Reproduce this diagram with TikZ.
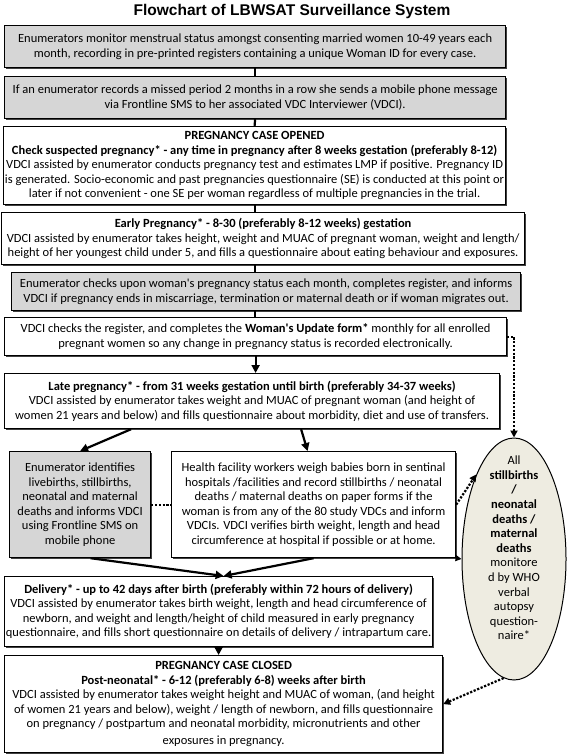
\documentclass[tikz,border=0pt]{standalone}
\usepackage{fontspec}
\setmainfont{Carlito}
\newfontfamily\titlefont{Liberation Sans}
\usetikzlibrary{arrows.meta,shapes.geometric,shadows}
\definecolor{boxgrey}{HTML}{D6D6D6}
\definecolor{ellfill}{HTML}{EEECE1}
\begin{document}
\begin{tikzpicture}[x=1pt,y=-1pt,
  box/.style={draw, fill=white, line width=1.2pt, inner sep=0pt, align=center, anchor=north west,
    font=\fontsize{12.5}{14.5}\selectfont,
    drop shadow={shadow xshift=1.1pt, shadow yshift=-1.1pt, fill=black!75, opacity=1}},
  greybox/.style={box, fill=boxgrey},
  link/.style={line width=2.2pt},
  arr/.style={line width=2.2pt, -{Triangle[length=8pt,width=8pt]}},
  thinarr/.style={line width=1.3pt, -{Triangle[length=6pt,width=6pt]}},
  dotarr/.style={line width=2.2pt, dash pattern=on 2.2pt off 1.6pt, -{Triangle[length=7pt,width=7pt]}},
  dotlink/.style={line width=2.2pt, dash pattern=on 2.2pt off 1.6pt}
]
\useasboundingbox (0,0) rectangle (567,754);
\node[font=\titlefont\fontsize{15.5}{18}\selectfont\bfseries] (title) at (292,11) {Flowchart of LBWSAT Surveillance System};

\node[greybox, minimum width=501pt, minimum height=42pt] (b1) at (4,25)
 {Enumerators monitor menstrual status amongst consenting married women 10-49 years each\\
  month, recording in pre-printed registers containing a unique Woman ID for every case.};
\node[greybox, minimum width=501pt, minimum height=42pt] (b2) at (4,76)
 {If an enumerator records a missed period 2 months in a row she sends a mobile phone message\\
  via Frontline SMS to her associated VDC Interviewer (VDCI).};
\node[box, minimum width=502pt, minimum height=78pt] (b3) at (3,126)
 {\textbf{PREGNANCY CASE OPENED}\\
  \textbf{Check suspected pregnancy* - any time in pregnancy after 8 weeks gestation (preferably 8-12)}\\
  VDCI assisted by enumerator conducts pregnancy test and estimates LMP if positive. Pregnancy ID\\
  is generated. Socio-economic and past pregnancies questionnaire (SE) is conducted at this point or\\
  later if not convenient - one SE per woman regardless of multiple pregnancies in the trial.};
\node[box, minimum width=523pt, minimum height=52pt] (b4) at (1,212)
 {\textbf{Early Pregnancy* - 8-30 (preferably 8-12 weeks) gestation}\\
  VDCI assisted by enumerator takes height, weight and MUAC of pregnant woman, weight and length/\\
  height of her youngest child under 5, and fills a questionnaire about eating behaviour and exposures.};
\node[greybox, minimum width=509pt, minimum height=38pt] (b5) at (11,272)
 {Enumerator checks upon woman\textquotesingle s pregnancy status each month, completes register, and informs\\
  VDCI if pregnancy ends in miscarriage, termination or maternal death or if woman migrates out.};
\node[box, minimum width=502pt, minimum height=38pt] (b6) at (4,317)
 {VDCI checks the register, and completes the \textbf{Woman\textquotesingle s Update form*} monthly for all enrolled\\
  pregnant women so any change in pregnancy status is recorded electronically.};
\node[box, minimum width=495pt, minimum height=55pt] (b7) at (4,373)
 {\textbf{Late pregnancy* - from 31 weeks gestation until birth (preferably 34-37 weeks)}\\
  VDCI assisted by enumerator takes weight and MUAC of pregnant woman (and height of\\
  women 21 years and below) and fills questionnaire about morbidity, diet and use of transfers.};
\node[greybox, minimum width=141pt, minimum height=106pt] (enum) at (9,451)
 {Enumerator identifies\\ livebirths, stillbirths,\\ neonatal and maternal\\ deaths and informs VDCI\\ using Frontline SMS on\\ mobile phone};
\node[box, minimum width=284pt, minimum height=106pt] (hf) at (171,451)
 {Health facility workers weigh babies born in sentinal\\
  hospitals /facilities and record stillbirths / neonatal\\
  deaths / maternal deaths on paper forms if the\\
  woman is from any of the 80 study VDCs and inform\\
  VDCIs. VDCI verifies birth weight, length and head\\
  circumference at hospital if possible or at home.};
\node[box, minimum width=428pt, minimum height=70pt] (dl) at (4,576)
 {\textbf{Delivery* - up to 42 days after birth (preferably within 72 hours of delivery)}\\
  VDCI assisted by enumerator takes birth weight, length and head circumference of\\
  newborn, and weight and length/height of child measured in early pregnancy\\
  questionnaire, and fills short questionnaire on details of delivery / intrapartum care.};
\node[box, minimum width=438pt, minimum height=97pt] (cl) at (4,655)
 {\textbf{PREGNANCY CASE CLOSED}\\
  \textbf{Post-neonatal* - 6-12 (preferably 6-8) weeks after birth}\\
  VDCI assisted by enumerator takes weight height and MUAC of woman, (and height\\
  of women 21 years and below), weight / length of newborn, and fills questionnaire\\
  on pregnancy / postpartum and neonatal morbidity, micronutrients and other\\[2pt]
  exposures in pregnancy.};
\node[draw, line width=1pt, fill=ellfill, ellipse, inner sep=0pt, minimum width=104pt, minimum height=242pt] (ell) at (514,559) {};
\node[align=center, font=\fontsize{12.5}{14.6}\selectfont] (elltext) at (514,548)
 {All\\\textbf{stillbirths}\\\textbf{/}\\\textbf{neonatal}\\\textbf{deaths /}\\\textbf{maternal}\\\textbf{deaths}\\monitore\\d by WHO\\verbal\\autopsy\\question-\\naire*};

\draw[link] (b1.south) -- (b2.north);
\draw[link] (b2.south) -- (b3.north);
\draw[link] (b3.south) -- (b3.south |- b4.north);
\draw[link] (b3.south |- b4.south) -- (b3.south |- b5.north);
\draw[link] (b3.south |- b5.south) -- (b3.south |- b6.north);
\draw[arr] (b6.south) -- (b6.south |- b7.north);
\draw[arr] ([xshift=-121pt]b7.south) -- (enum.north);
\draw[arr] ([xshift=49pt]b7.south) -- ([xshift=-6pt]hf.north);
\draw[arr] ([xshift=10.5pt]enum.south) -- ([xshift=5pt]dl.north);
\draw[arr] (hf.south) -- ([xshift=5pt]dl.north);
\draw[arr] (dl.south) -- (dl.south |- cl.north);
\draw[dotarr] (b6.east) -| (ell.north);
\draw[dotarr] (hf.east) -- (ell.114);
\draw[thinarr] (hf.south east) -- (ell.west);
\draw[dotlink] (enum.east) -- (hf.west);
\draw[dotarr] (ell.265) -- (cl.east);
\end{tikzpicture}
\end{document}
